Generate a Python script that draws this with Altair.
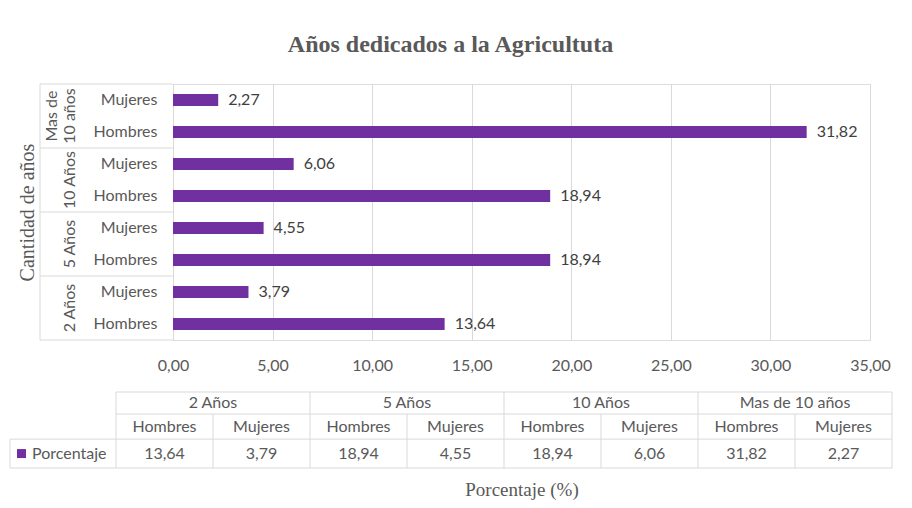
import altair as alt
import pandas as pd

# ---------------- data ----------------
groups = ["2 Años", "5 Años", "10 Años", "Mas de 10 años"]
group_lines = [["2 Años"], ["5 Años"], ["10 Años"], ["Mas de", "10 años"]]
sexes = ["Hombres", "Mujeres"]
values = [13.64, 3.79, 18.94, 4.55, 18.94, 6.06, 31.82, 2.27]  # group-major, Hombres then Mujeres
series_name = "Porcentaje"
x_ticks = [0, 5, 10, 15, 20, 25, 30, 35]
chart_title = "Años dedicados a la Agricultuta"
y_title = "Cantidad de años"
x_title = "Porcentaje (%)"

# ---------------- style ----------------
PURPLE = "#7030A0"
GRID = "#d9d9d9"
TXT = "#595959"
LBL = "#404040"
SANS = "Lato"
SERIF = "Liberation Serif"
W, H = 697, 256


def fmt(v):
    return f"{v:.2f}".replace(".", ",")


rows = []
for gi, g in enumerate(groups):
    for si, s in enumerate(sexes):
        v = values[gi * 2 + si]
        rows.append({"row": f"{g}|{s}", "value": v, "label": fmt(v)})
df = pd.DataFrame(rows)

row_order = [f"{g}|{s}" for g in reversed(groups) for s in reversed(sexes)]
yscale = alt.Scale(domain=row_order, paddingInner=0, paddingOuter=0)
yaxis = alt.Axis(
    labelExpr="split(datum.value, '|')[1]",
    labelFont=SANS, labelFontSize=16, labelColor=TXT, labelPadding=16,
    labelOverlap=False,
    ticks=False, tickSize=0, domain=True, domainColor=GRID, grid=False,
    title=y_title, titleFont=SERIF, titleFontSize=20, titleFontWeight="normal",
    titleColor=TXT, titleAngle=270, titleX=-146, titleY=H / 2,
    titleAlign="center", titleBaseline="middle",
)


def ych(band=None):
    if band is None:
        return alt.Y("row:N", scale=yscale, axis=yaxis)
    return alt.Y("row:N", scale=yscale, axis=yaxis, bandPosition=band)


xenc = alt.X(
    "value:Q",
    scale=alt.Scale(domain=[0, 35], nice=False, zero=True),
    axis=alt.Axis(
        values=x_ticks,
        labelExpr="replace(format(datum.value, '.2f'), '.', ',')",
        grid=True, gridColor=GRID, domain=False, ticks=False, tickSize=0,
        labelPadding=17, labelFlush=False, labelOverlap=False,
        labelFont=SANS, labelFontSize=16, labelColor=TXT,
        title=x_title, titleFont=SERIF, titleFontSize=19, titleFontWeight="normal",
        titleColor=TXT, titleY=155, titleBaseline="alphabetic",
    ),
)

bars = alt.Chart(df).mark_bar(size=12, color=PURPLE).encode(x=xenc, y=ych())
vlabels = alt.Chart(df).mark_text(
    align="left", baseline="middle", dx=10, font=SANS, fontSize=16, color=LBL
).encode(x=xenc, y=ych(), text="label:N")

# nested category labels (outer group)
gl = pd.DataFrame({
    "row": [f"{g}|Mujeres" for g in groups],
    "last": [ln[-1] for ln in group_lines],
    "first": [ln[0] if len(ln) > 1 else "" for ln in group_lines],
})
glab_last = alt.Chart(gl).mark_text(
    angle=270, align="center", baseline="alphabetic", font=SANS, fontSize=16, color=TXT
).encode(x=alt.value(-98), y=ych(1), text="last:N")
glab_first = alt.Chart(gl).mark_text(
    angle=270, align="center", baseline="alphabetic", font=SANS, fontSize=16, color=TXT
).encode(x=alt.value(-116), y=ych(1), text="first:N")

# category-axis frame lines
tops = pd.DataFrame({"row": [f"{g}|Mujeres" for g in groups]})
bottom = pd.DataFrame({"row": [f"{groups[0]}|Hombres"]})
rule_tops = alt.Chart(tops).mark_rule(color=GRID, strokeWidth=1).encode(
    x=alt.value(-133), x2=alt.value(0), y=ych(0))
rule_bottom = alt.Chart(bottom).mark_rule(color=GRID, strokeWidth=1).encode(
    x=alt.value(-133), x2=alt.value(0), y=ych(1))
rule_left = alt.Chart(pd.DataFrame({"k": [0]})).mark_rule(color=GRID, strokeWidth=1).encode(
    x=alt.value(-133), y=alt.value(0), y2=alt.value(H))

main = alt.layer(rule_tops, rule_bottom, rule_left, bars, vlabels, glab_first, glab_last)

# ---------------- data table ----------------
ncol = len(values)
row_edges = [0, 0.87, 1.86, 3]
label_col_left = -1.093
tx_scale = alt.Scale(domain=[0, ncol], range=[-57, 719], nice=False, zero=False)
ty_scale = alt.Scale(domain=[0, 3], range=[308, 384], nice=False, zero=False)


def tx(field):
    return alt.X(field, type="quantitative", scale=tx_scale, axis=None)


def ty(field):
    return alt.Y(field, type="quantitative", scale=ty_scale, axis=None)


def mid(a, b):
    return (a + b) / 2


cells = []
for gi, g in enumerate(groups):
    cells.append({"tx": gi * 2 + 1, "ty": mid(row_edges[0], row_edges[1]), "t": g})
for c in range(ncol):
    cells.append({"tx": c + 0.5, "ty": mid(row_edges[1], row_edges[2]), "t": sexes[c % 2]})
    cells.append({"tx": c + 0.5, "ty": mid(row_edges[2], row_edges[3]), "t": fmt(values[c])})
cells_df = pd.DataFrame(cells)

segs = []
segs.append({"x": 0, "x2": ncol, "y": row_edges[0], "y2": row_edges[0]})
segs.append({"x": 0, "x2": ncol, "y": row_edges[1], "y2": row_edges[1]})
segs.append({"x": label_col_left, "x2": ncol, "y": row_edges[2], "y2": row_edges[2]})
segs.append({"x": label_col_left, "x2": ncol, "y": row_edges[3], "y2": row_edges[3]})
segs.append({"x": label_col_left, "x2": label_col_left, "y": row_edges[2], "y2": row_edges[3]})
for c in range(0, ncol + 1):
    top = row_edges[0] if c % 2 == 0 else row_edges[1]
    segs.append({"x": c, "x2": c, "y": top, "y2": row_edges[3]})
segs_df = pd.DataFrame(segs)

t_rules = alt.Chart(segs_df).mark_rule(color=GRID, strokeWidth=1).encode(
    x=tx("x"), x2="x2:Q", y=ty("y"), y2="y2:Q")
t_text = alt.Chart(cells_df).mark_text(
    align="center", baseline="middle", font=SANS, fontSize=16, color=TXT
).encode(x=tx("tx"), y=ty("ty"), text="t:N")

leg_df = pd.DataFrame({"sx": [-0.974], "lx": [-0.866],
                       "ty": [mid(row_edges[2], row_edges[3])], "t": [series_name]})
t_key = alt.Chart(leg_df).mark_square(size=81, color=PURPLE, opacity=1, filled=True).encode(
    x=tx("sx"), y=ty("ty"))
t_name = alt.Chart(leg_df).mark_text(
    align="left", baseline="middle", font=SANS, fontSize=16, color=TXT
).encode(x=tx("lx"), y=ty("ty"), text="t:N")

table = alt.layer(t_rules, t_text, t_key, t_name)

chart = alt.layer(main, table).resolve_scale(x="independent", y="independent").properties(
    width=W, height=H,
    padding={"left": 165, "top": 76, "right": 30, "bottom": 160},
    autosize=alt.AutoSizeParams(type="none"),
    title=alt.TitleParams(
        text=chart_title, font=SERIF, fontSize=24, fontWeight="bold", color=TXT,
        anchor="middle", frame="group", dx=-71, offset=8, baseline="alphabetic",
    ),
).configure_view(strokeWidth=0).configure(background="white")

chart.save("out.html", embed_options={"renderer": "svg", "actions": False})
